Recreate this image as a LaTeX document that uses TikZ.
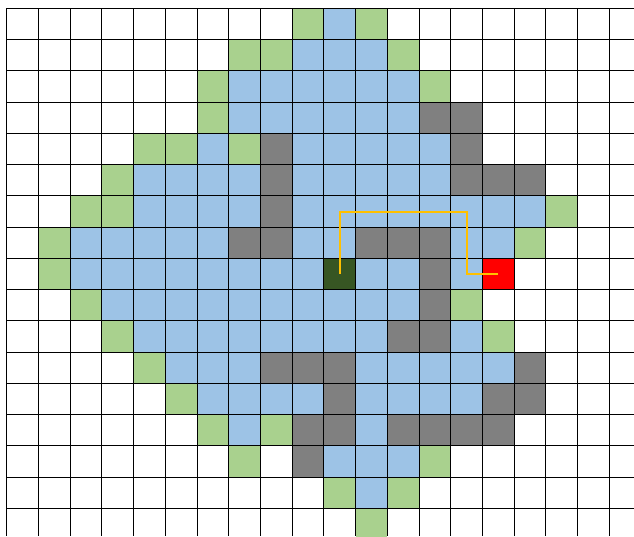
\documentclass[tikz,border=0pt]{standalone}
\usetikzlibrary{calc}
\definecolor{cblue}{HTML}{9DC3E6}
\definecolor{cgreen}{HTML}{A9D18E}
\definecolor{cgray}{HTML}{808080}
\definecolor{cstart}{HTML}{375623}
\definecolor{cgoal}{HTML}{FF0000}
\definecolor{cpath}{HTML}{FFC000}
\newcommand{\gx}{6.7}
\newcommand{\gy}{8.3}
\newcommand{\cw}{31.72}
\newcommand{\ch}{31.25}
\tikzset{
  gridline/.style={line width=1pt, black},
  pathline/.style={line width=2pt, cpath, line join=miter},
}
\newcommand{\paintrow}[3]{%
  \foreach \c in {#3} {
    \fill[#1] ({\gx+\cw*\c},{\gy+\ch*#2}) rectangle ++(\cw,\ch);
  }%
}
\begin{document}
\begin{tikzpicture}[x=1pt,y=-1pt]
\useasboundingbox (0,0) rectangle (634,536);
\clip (0,0) rectangle (634,536);
\fill[white] (0,0) rectangle (634,536);
% blue cells
\paintrow{cblue}{0}{10}
\paintrow{cblue}{1}{9,10,11}
\paintrow{cblue}{2}{7,8,9,10,11,12}
\paintrow{cblue}{3}{7,8,9,10,11,12}
\paintrow{cblue}{4}{6,9,10,11,12,13}
\paintrow{cblue}{5}{4,5,6,7,9,10,11,12,13}
\paintrow{cblue}{6}{4,5,6,7,9,10,11,12,13,14,15,16}
\paintrow{cblue}{7}{2,3,4,5,6,9,10,14,15}
\paintrow{cblue}{8}{2,3,4,5,6,7,8,9,11,12,14}
\paintrow{cblue}{9}{3,4,5,6,7,8,9,10,11,12}
\paintrow{cblue}{10}{4,5,6,7,8,9,10,11,14}
\paintrow{cblue}{11}{5,6,7,11,12,13,14,15}
\paintrow{cblue}{12}{6,7,8,9,11,12,13,14}
\paintrow{cblue}{13}{7,11}
\paintrow{cblue}{14}{10,11,12}
\paintrow{cblue}{15}{11}
% green cells
\paintrow{cgreen}{0}{9,11}
\paintrow{cgreen}{1}{7,8,12}
\paintrow{cgreen}{2}{6,13}
\paintrow{cgreen}{3}{6}
\paintrow{cgreen}{4}{4,5,7}
\paintrow{cgreen}{5}{3}
\paintrow{cgreen}{6}{2,3,17}
\paintrow{cgreen}{7}{1,16}
\paintrow{cgreen}{8}{1}
\paintrow{cgreen}{9}{2,14}
\paintrow{cgreen}{10}{3,15}
\paintrow{cgreen}{11}{4}
\paintrow{cgreen}{12}{5}
\paintrow{cgreen}{13}{6,8}
\paintrow{cgreen}{14}{7,13}
\paintrow{cgreen}{15}{10,12}
\paintrow{cgreen}{16}{11}
% obstacles
\paintrow{cgray}{3}{13,14}
\paintrow{cgray}{4}{8,14}
\paintrow{cgray}{5}{8,14,15,16}
\paintrow{cgray}{6}{8}
\paintrow{cgray}{7}{7,8,11,12,13}
\paintrow{cgray}{8}{13}
\paintrow{cgray}{9}{13}
\paintrow{cgray}{10}{12,13}
\paintrow{cgray}{11}{8,9,10,16}
\paintrow{cgray}{12}{10,15,16}
\paintrow{cgray}{13}{9,10,12,13,14,15}
\paintrow{cgray}{14}{9}
% start and goal
\paintrow{cstart}{8}{10}
\paintrow{cgoal}{8}{15}
% grid
\foreach \k in {0,...,19}
  \draw[gridline] ({\gx+\cw*\k},\gy) -- ({\gx+\cw*\k},536);
\foreach \k in {0,...,16}
  \draw[gridline] (\gx,{\gy+\ch*\k}) -- (634,{\gy+\ch*\k});
% path
\coordinate (start) at ({\gx+\cw*10.5},{\gy+\ch*8.5});
\coordinate (goal) at ({\gx+\cw*15.5},{\gy+\ch*8.5});
\coordinate (p1) at ({\gx+\cw*10.5},{\gy+\ch*6.5+0.6});
\coordinate (p2) at ({\gx+\cw*14.5},{\gy+\ch*6.5+0.6});
\coordinate (p3) at ({\gx+\cw*14.5},{\gy+\ch*8.5});
\draw[pathline] (start) -- (p1) -- (p2) -- (p3) -- (goal);
\end{tikzpicture}
\end{document}
